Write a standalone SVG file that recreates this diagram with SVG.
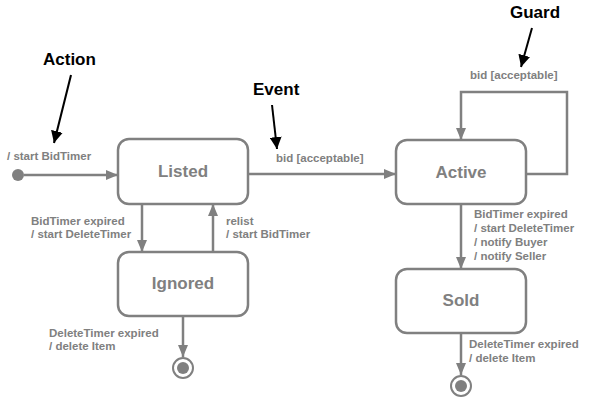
<svg xmlns="http://www.w3.org/2000/svg" width="591" height="403" viewBox="0 0 591 403">
<defs>
<marker id="ga" viewBox="0 0 12 10" refX="12" refY="5" markerWidth="12" markerHeight="10" markerUnits="userSpaceOnUse" orient="auto"><path d="M0,0 L12,5 L0,10 Z" fill="#808080"/></marker>
<marker id="ba" viewBox="0 0 12 12" refX="12" refY="6" markerWidth="12" markerHeight="12" markerUnits="userSpaceOnUse" orient="auto"><path d="M0,0 L12,6 L0,12 Z" fill="#000"/></marker>
</defs>
<style>
.st{fill:#fff;stroke:#808080;stroke-width:2.5}
.sn{font-family:"Liberation Sans",Arial,sans-serif;font-weight:bold;font-size:17px;fill:#808080;text-anchor:middle}
.lb{font-family:"Liberation Sans",Arial,sans-serif;font-weight:bold;font-size:11.5px;fill:#808080}
.an{font-family:"Liberation Sans",Arial,sans-serif;font-weight:bold;font-size:17px;fill:#000}
.c{fill:none;stroke:#808080;stroke-width:2.5}
.ca{fill:none;stroke:#000;stroke-width:2}
</style>
<rect width="591" height="403" fill="#fff"/>
<g id="initial"><circle cx="18" cy="175" r="6" fill="#808080"/></g>
<g id="listed"><rect class="st" x="118" y="139" width="130" height="65" rx="11"/><text class="sn" x="183" y="177">Listed</text></g>
<g id="active"><rect class="st" x="396" y="140" width="130" height="64" rx="11"/><text class="sn" x="461" y="178">Active</text></g>
<g id="ignored"><rect class="st" x="118" y="252" width="130" height="64" rx="11"/><text class="sn" x="183" y="289">Ignored</text></g>
<g id="sold"><rect class="st" x="396" y="269" width="130" height="64" rx="11"/><text class="sn" x="461" y="306">Sold</text></g>
<g id="final1"><circle cx="183" cy="368" r="10" fill="#fff" stroke="#808080" stroke-width="2"/><circle cx="183" cy="368" r="6" fill="#808080"/></g>
<g id="final2"><circle cx="461" cy="386" r="10" fill="#fff" stroke="#808080" stroke-width="2"/><circle cx="461" cy="386" r="6" fill="#808080"/></g>
<g id="connectors">
<line class="c" x1="24" y1="175" x2="118" y2="175" marker-end="url(#ga)"/>
<line class="c" x1="248" y1="174" x2="396" y2="174" marker-end="url(#ga)"/>
<polyline class="c" points="526,174 567,174 567,92 461,92 461,140" marker-end="url(#ga)"/>
<line class="c" x1="142" y1="204" x2="142" y2="252" marker-end="url(#ga)"/>
<line class="c" x1="213" y1="252" x2="213" y2="204" marker-end="url(#ga)"/>
<line class="c" x1="183" y1="316" x2="183" y2="357" marker-end="url(#ga)"/>
<line class="c" x1="461" y1="204" x2="461" y2="269" marker-end="url(#ga)"/>
<line class="c" x1="461" y1="333" x2="461" y2="375" marker-end="url(#ga)"/>
</g>
<g id="labels">
<text class="lb" x="7" y="160">/ start BidTimer</text>
<text class="lb" x="276" y="162">bid [acceptable]</text>
<text class="lb" x="470" y="79">bid [acceptable]</text>
<text class="lb" x="31" y="225">BidTimer expired</text>
<text class="lb" x="31" y="238">/ start DeleteTimer</text>
<text class="lb" x="226" y="225">relist</text>
<text class="lb" x="226" y="238">/ start BidTimer</text>
<text class="lb" x="49" y="337">DeleteTimer expired</text>
<text class="lb" x="49" y="350">/ delete Item</text>
<text class="lb" x="474" y="218">BidTimer expired</text>
<text class="lb" x="474" y="232">/ start DeleteTimer</text>
<text class="lb" x="474" y="246">/ notify Buyer</text>
<text class="lb" x="474" y="260">/ notify Seller</text>
<text class="lb" x="469" y="348">DeleteTimer expired</text>
<text class="lb" x="469" y="362">/ delete Item</text>
</g>
<g id="annotations">
<text class="an" x="43" y="65">Action</text>
<line class="ca" x1="71" y1="75" x2="54" y2="143" marker-end="url(#ba)"/>
<text class="an" x="253" y="95">Event</text>
<line class="ca" x1="272" y1="105" x2="277" y2="149" marker-end="url(#ba)"/>
<text class="an" x="510" y="18">Guard</text>
<line class="ca" x1="532" y1="28" x2="521" y2="67" marker-end="url(#ba)"/>
</g>
</svg>
